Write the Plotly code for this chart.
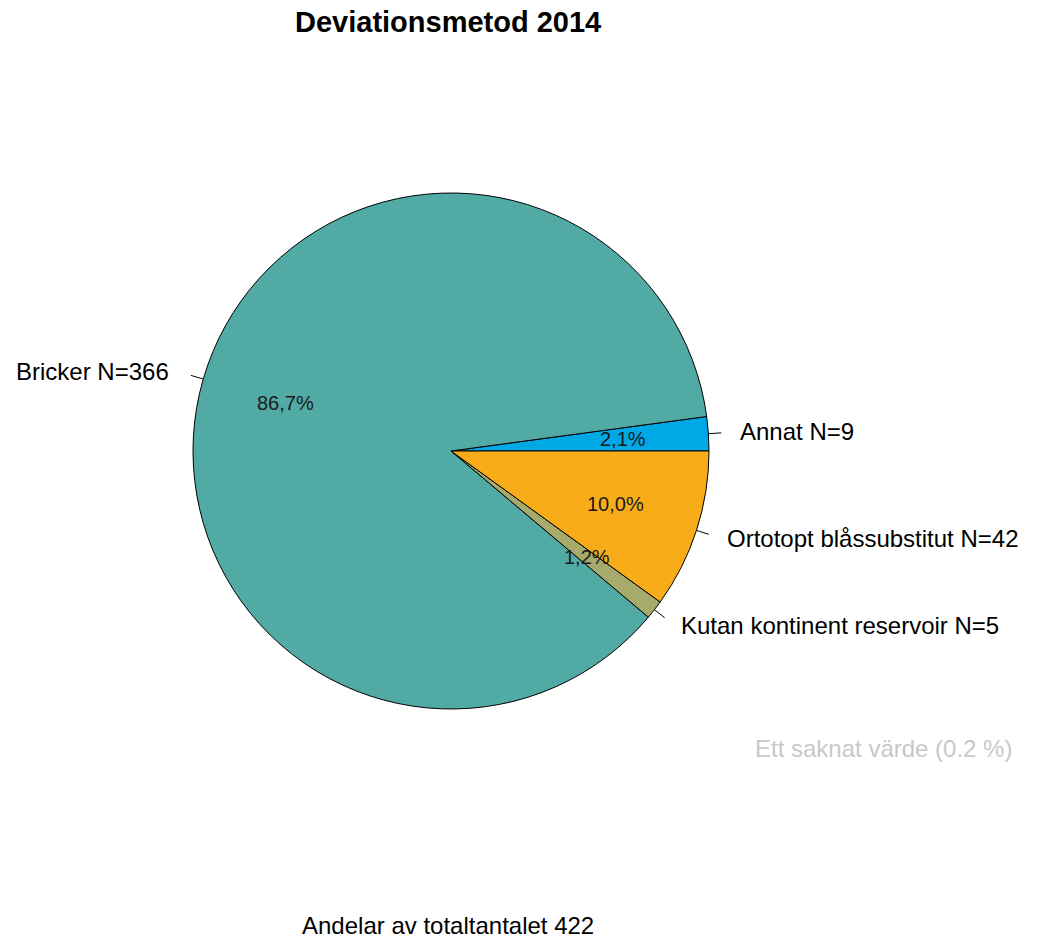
import math
import plotly.graph_objects as go

# Data
labels = ["Annat", "Bricker", "Kutan kontinent reservoir", "Ortotopt blåssubstitut"]
counts = [9, 366, 5, 42]
colors = ["#00A9E6", "#52AAA5", "#A6AA6A", "#F8AC1A"]
title_text = "Deviationsmetod 2014"
missing_text = "Ett saknat värde (0.2 %)"
total = sum(counts)
footer_text = f"Andelar av totaltantalet {total}"

W, H = 1045, 938
CX, CY, R = 451, 451, 258  # pie centre and radius in pixels
FONT = "Liberation Sans, Arial, sans-serif"


def px(x):
    return x / W


def py(y):
    return 1 - y / H


# first slice starts at 3 o'clock and slices run counterclockwise
first_deg = 360 * counts[0] / total

fig = go.Figure(
    go.Pie(
        labels=labels,
        values=counts,
        sort=False,
        direction="counterclockwise",
        rotation=90 - first_deg,
        textinfo="none",
        hoverinfo="label+value+percent",
        marker=dict(colors=colors, line=dict(color="black", width=1)),
        domain=dict(x=[px(CX - R), px(CX + R)], y=[py(CY + R), py(CY - R)]),
        showlegend=False,
    )
)

annotations = []
shapes = []
cum = 0
for lab, n in zip(labels, counts):
    frac = n / total
    mid = 2 * math.pi * (cum + frac / 2)
    cum += frac
    c, s = math.cos(mid), math.sin(mid)

    # percentage inside the slice
    pct = f"{frac * 100:.1f}%".replace(".", ",")
    annotations.append(dict(
        x=px(CX + 0.67 * R * c), y=py(CY - 0.67 * R * s),
        xref="paper", yref="paper", text=pct, showarrow=False,
        font=dict(family=FONT, size=20, color="#1a1a1a"),
        xanchor="center", yanchor="middle",
    ))

    # tick line from the rim outward
    shapes.append(dict(
        type="line", xref="paper", yref="paper",
        x0=px(CX + R * c), y0=py(CY - R * s),
        x1=px(CX + 1.05 * R * c), y1=py(CY - 1.05 * R * s),
        line=dict(color="black", width=1),
    ))

    # outer label
    right = c >= 0
    annotations.append(dict(
        x=px(CX + 1.1 * R * c), y=py(CY - 1.1 * R * s),
        xref="paper", yref="paper", text=f"{lab} N={n}", showarrow=False,
        font=dict(family=FONT, size=24, color="black"),
        xanchor="left" if right else "right", yanchor="middle",
        xshift=4 if right else -7,
    ))

annotations += [
    dict(x=px(448), y=py(22), xref="paper", yref="paper", text=f"<b>{title_text}</b>",
         showarrow=False, xanchor="center", yanchor="middle",
         font=dict(family=FONT, size=29, color="black")),
    dict(x=px(883), y=py(748), xref="paper", yref="paper", text=missing_text,
         showarrow=False, xanchor="center", yanchor="middle",
         font=dict(family=FONT, size=24, color="#C8C8C8")),
    dict(x=px(448), y=py(925), xref="paper", yref="paper", text=footer_text,
         showarrow=False, xanchor="center", yanchor="middle",
         font=dict(family=FONT, size=24, color="black")),
]

fig.update_layout(
    width=W, height=H,
    margin=dict(l=0, r=0, t=0, b=0),
    paper_bgcolor="white", plot_bgcolor="white",
    annotations=annotations, shapes=shapes,
)

fig.write_html("out.html")
